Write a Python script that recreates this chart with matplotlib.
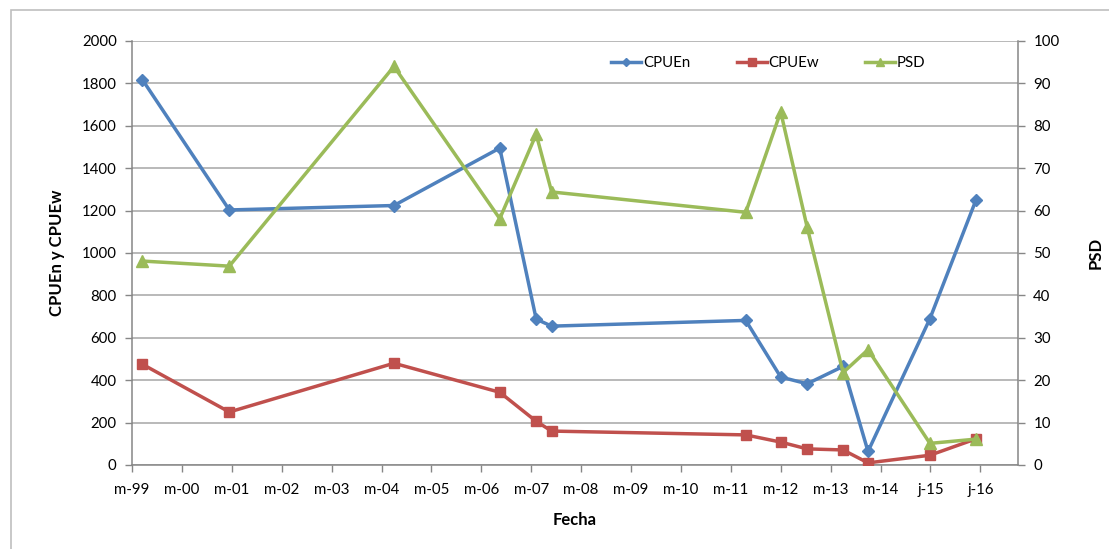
import matplotlib.pyplot as plt
from matplotlib.patches import Rectangle

# Fechas de muestreo en años decimales (la marca "m-99" cae en 1999.4)
fechas = [1999.61, 2001.35, 2004.65, 2006.77, 2007.50, 2007.81, 2011.70,
          2012.40, 2012.93, 2013.65, 2014.15, 2015.39, 2016.31]

cpuen = [1817, 1203, 1224, 1495, 688, 655, 682, 415, 383, 465, 64, 690, 1248]
cpuew = [475, 250, 480, 343, 206, 160, 142, 108, 76, 71, 10, 46, 123]
psd = [48.1, 46.9, 94.0, 58.1, 78.0, 64.4, 59.6, 83.3, 56.1, 21.8, 27.2, 5.1, 6.1]

marcas_x = [1999.4 + i for i in range(18)]
etiquetas_x = ['m-99', 'm-00', 'm-01', 'm-02', 'm-03', 'm-04', 'm-05', 'm-06',
               'm-07', 'm-08', 'm-09', 'm-10', 'm-11', 'm-12', 'm-13', 'm-14',
               'j-15', 'j-16']

azul = '#4F81BD'
rojo = '#C0504D'
verde = '#9BBB59'
gris = '#868686'

plt.rcParams['font.family'] = ['Lato', 'DejaVu Sans']

fig = plt.figure(figsize=(11.09, 5.49), dpi=100)
# borde del área del gráfico
fig.patches.append(Rectangle((11 / 1109, -0.05), 1.2, 1 - 10 / 549 + 0.05,
                             transform=fig.transFigure, fill=False,
                             edgecolor='#BFBFBF', linewidth=1.2))

ax = fig.add_axes([132 / 1109, 1 - 465 / 549, (1018 - 132) / 1109, 424 / 549])
ax2 = ax.twinx()

l1, = ax.plot(fechas, cpuen, color=azul, lw=2.5, marker='D', ms=6,
              label='CPUEn', zorder=3)
l2, = ax.plot(fechas, cpuew, color=rojo, lw=2.5, marker='s', ms=7.5,
              label='CPUEw', zorder=3)
l3, = ax2.plot(fechas, psd, color=verde, lw=2.5, marker='^', ms=8.5,
               label='PSD', zorder=3)

ax.set_xlim(1999.4, 1999.4 + (1018 - 132) / 49.9)
ax.set_ylim(0, 2000)
ax2.set_ylim(0, 100)
ax.set_yticks(range(0, 2001, 200))
ax2.set_yticks(range(0, 101, 10))
ax.set_xticks(marcas_x)
ax.set_xticklabels(etiquetas_x)

ax.grid(axis='y', color='#A6A6A6', lw=1.1)
ax.set_axisbelow(True)

for a in (ax, ax2):
    for lado in a.spines.values():
        lado.set_visible(False)
    a.tick_params(labelsize=10.8, colors=gris, labelcolor='black',
                  length=5, width=1)
ax.spines['left'].set_visible(True)
ax.spines['bottom'].set_visible(True)
ax2.spines['right'].set_visible(True)
for lado in (ax.spines['left'], ax.spines['bottom'], ax2.spines['right']):
    lado.set_color(gris)
    lado.set_linewidth(1.1)
ax.tick_params(axis='x', pad=8)
ax.tick_params(axis='y', pad=6)
ax2.tick_params(axis='y', pad=6)

ax.set_ylabel('CPUEn y CPUEw', fontsize=12, fontweight='bold', labelpad=12)
ax2.set_ylabel('PSD', fontsize=12, fontweight='bold', labelpad=20)
ax.set_xlabel('Fecha', fontsize=12, fontweight='bold', labelpad=11)

ax.legend(handles=[l1, l2, l3], loc='upper left', ncol=3, frameon=False,
          bbox_to_anchor=(0.531, 0.985), fontsize=10.8, columnspacing=3.1,
          handlelength=2.0, handletextpad=0.1, markerscale=0.75,
          borderaxespad=0.2)

fig.savefig('out.png', dpi=100)
